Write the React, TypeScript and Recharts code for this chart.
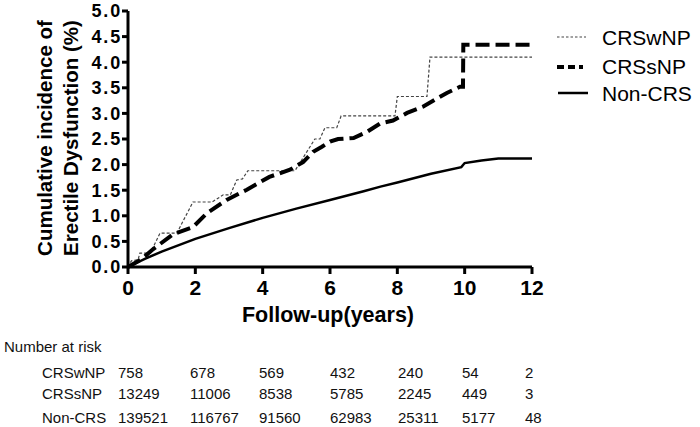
import React from 'react';
import { LineChart, Line, XAxis, YAxis, Label } from 'recharts';

// Cumulative incidence (%), [years, percent]
const crswnpPoints = [
  [0, 0], [0.1, 0.12], [0.3, 0.14], [0.35, 0.27], [0.66, 0.27], [0.95, 0.66],
  [1.45, 0.66], [1.93, 1.27], [2.5, 1.27], [2.83, 1.41], [3.04, 1.41],
  [3.23, 1.7], [3.4, 1.72], [3.56, 1.88], [4.96, 1.88], [5.55, 2.5],
  [5.7, 2.5], [5.85, 2.72], [6.2, 2.72], [6.33, 2.95], [7.93, 2.95],
  [8.0, 3.33], [8.88, 3.33], [8.97, 4.1], [12, 4.1],
];
const crssnpPoints = [
  [0, 0], [0.4, 0.15], [0.75, 0.35], [1.34, 0.64], [1.93, 0.78], [2.34, 1.05],
  [2.93, 1.31], [3.53, 1.51], [4.2, 1.76], [4.81, 1.9], [5.2, 2.05],
  [5.5, 2.25], [5.76, 2.35], [6.0, 2.45], [6.24, 2.5], [6.7, 2.52],
  [7.1, 2.64], [7.48, 2.8], [7.87, 2.86], [8.29, 3.01], [8.76, 3.13],
  [9.12, 3.27], [9.47, 3.4], [9.86, 3.52], [9.95, 3.52], [9.96, 4.34], [12, 4.34],
];
const nonCrsPoints = [
  [0, 0], [0.5, 0.16], [1, 0.3], [2, 0.55], [3, 0.76], [4, 0.96], [5, 1.14],
  [6, 1.31], [7, 1.48], [7.5, 1.57], [8, 1.65], [9, 1.82], [9.9, 1.95],
  [10, 2.03], [10.5, 2.08], [11, 2.12], [12, 2.12],
];

const xTicks = [0, 2, 4, 6, 8, 10, 12];
const yTicks = [0, 0.5, 1, 1.5, 2, 2.5, 3, 3.5, 4, 4.5, 5];

// number at risk table
const riskGroups = ['CRSwNP', 'CRSsNP', 'Non-CRS'];
const riskCRSwNP = [758, 678, 569, 432, 240, 54, 2];
const riskCRSsNP = [13249, 11006, 8538, 5785, 2245, 449, 3];
const riskNonCRS = [139521, 116767, 91560, 62983, 25311, 5177, 48];
const riskColX = [118, 190, 259, 330, 398, 462, 525];

const toRows = (pts: number[][]) => pts.map(([x, y]) => ({ x, y }));

const FONT = '"Liberation Sans", Arial, sans-serif';

const YLabel = () => (
  <g fontFamily={FONT} fontWeight="bold" fontSize={20.5} fill="#000">
    <text transform="translate(52,138) rotate(-90)" textAnchor="middle">
      Cumulative incidence of
    </text>
    <text transform="translate(78,138) rotate(-90)" textAnchor="middle">
      Erectile Dysfunction (%)
    </text>
  </g>
);

const XLabel = () => (
  <text x={328} y={322} textAnchor="middle" fontFamily={FONT} fontWeight="bold"
    fontSize={21.5} fill="#000">
    Follow-up(years)
  </text>
);

export default function App() {
  const rows = [riskCRSwNP, riskCRSsNP, riskNonCRS];
  const rowBase = [378, 399, 423];
  return (
    <div style={{ position: 'absolute', left: 0, top: 0, width: 700, height: 427, background: '#fff' }}>
      <LineChart width={700} height={427} margin={{ top: 11, right: 168, bottom: 130, left: 68 }}>
        <XAxis
          type="number"
          dataKey="x"
          domain={[0, 12]}
          ticks={xTicks}
          interval={0}
          stroke="#000"
          strokeWidth={3}
          tickSize={7}
          tickMargin={6}
          tick={{ fill: '#000', fontSize: 21, fontWeight: 'bold', fontFamily: FONT }}
          height={30}
        >
          <Label content={<XLabel />} />
        </XAxis>
        <YAxis
          type="number"
          dataKey="y"
          domain={[0, 5]}
          ticks={yTicks}
          interval={0}
          width={60}
          stroke="#000"
          strokeWidth={3}
          tickSize={6}
          tickMargin={0}
          tickFormatter={(v: number) => v.toFixed(1)}
          tick={{ fill: '#000', fontSize: 18, fontWeight: 'bold', fontFamily: FONT, letterSpacing: 1.8 }}
        >
          <Label content={<YLabel />} />
        </YAxis>
        <Line
          data={toRows(nonCrsPoints)}
          dataKey="y"
          type="linear"
          stroke="#000"
          strokeWidth={2.5}
          dot={false}
          isAnimationActive={false}
        />
        <Line
          data={toRows(crswnpPoints)}
          dataKey="y"
          type="linear"
          stroke="#444"
          strokeWidth={1.2}
          strokeDasharray="3 2"
          dot={false}
          isAnimationActive={false}
        />
        <Line
          data={toRows(crssnpPoints)}
          dataKey="y"
          type="linear"
          stroke="#000"
          strokeWidth={4}
          strokeDasharray="14 6"
          dot={false}
          isAnimationActive={false}
        />
      </LineChart>

      <svg width={700} height={427} style={{ position: 'absolute', left: 0, top: 0, pointerEvents: 'none' }}>
        {/* legend */}
        <g fontFamily={FONT} fontSize={21} fill="#000">
          <line x1={557} x2={586} y1={37} y2={37} stroke="#444" strokeWidth={1.2} strokeDasharray="2.5 2" />
          <text x={602} y={45}>CRSwNP</text>
          <line x1={557} x2={583} y1={67} y2={67} stroke="#000" strokeWidth={4} strokeDasharray="7 4" />
          <text x={602} y={74}>CRSsNP</text>
          <line x1={558} x2={588} y1={93} y2={93} stroke="#000" strokeWidth={2.5} />
          <text x={602} y={101}>Non-CRS</text>
        </g>
        {/* number at risk */}
        <g fontFamily={FONT} fontSize={15} fill="#111">
          <text x={4} y={352}>Number at risk</text>
          {riskGroups.map((g, i) => (
            <g key={g}>
              <text x={42} y={rowBase[i]}>{g}</text>
              {rows[i].map((n, j) => (
                <text key={j} x={riskColX[j]} y={rowBase[i]}>{n}</text>
              ))}
            </g>
          ))}
        </g>
      </svg>
    </div>
  );
}
